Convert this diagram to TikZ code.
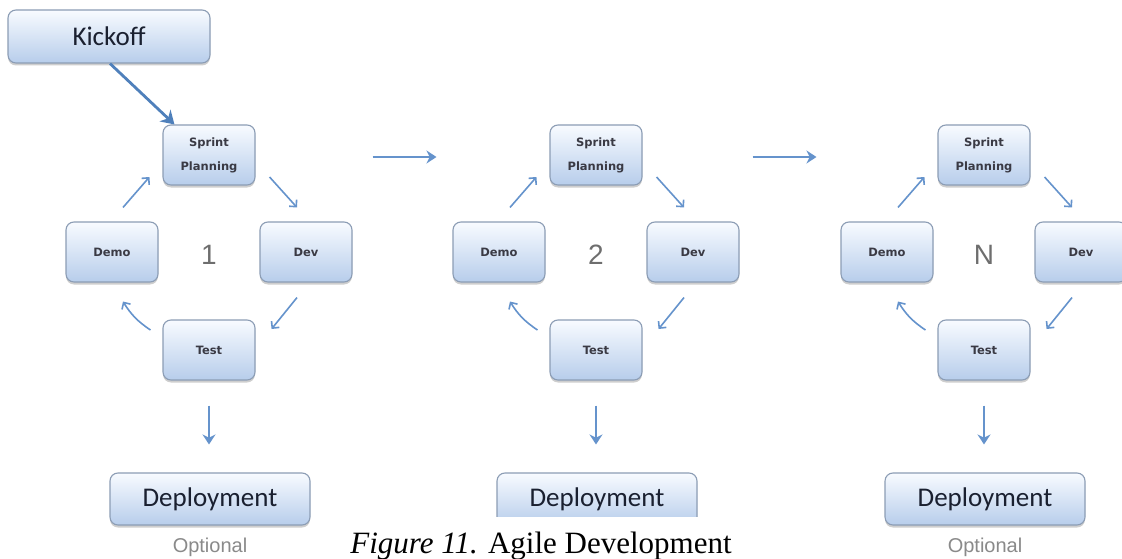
\documentclass[tikz,border=0pt]{standalone}
\usepackage{fontspec}
\setmainfont{Liberation Serif}
\newfontfamily\boxfont{DejaVu Sans}
\newfontfamily\calfont{Carlito}
\newfontfamily\arialfont{Liberation Sans}
\usetikzlibrary{arrows.meta,shadows,calc}
\definecolor{boxtop}{HTML}{F8FBFF}
\definecolor{boxbot}{HTML}{B7CDEB}
\definecolor{boxborder}{HTML}{8C9DB5}
\definecolor{labeltext}{HTML}{3A3A44}
\definecolor{darktext}{HTML}{1A2030}
\definecolor{arrowc}{HTML}{6593CC}
\definecolor{kickarrow}{HTML}{4F80BB}
\definecolor{numgray}{HTML}{6E6E6E}
\definecolor{optgray}{HTML}{8A8A8A}
\begin{document}
\begin{tikzpicture}[x=1pt,y=-1pt,
  sbox/.style={draw=boxborder, line width=1.1pt, rounded corners=8pt,
    top color=boxtop, bottom color=boxbot, minimum width=92pt, minimum height=60pt,
    inner sep=0pt, drop shadow={shadow xshift=0pt, shadow yshift=-2.5pt, opacity=0.35, fill=black!55},
    font=\boxfont\bfseries\fontsize{11.5}{24}\selectfont, text=labeltext, align=center},
  bbox/.style={sbox, minimum width=200pt, minimum height=52pt,
    font=\calfont\fontsize{27}{30}\selectfont, text=darktext},
  cyc/.style={-{Straight Barb[length=5pt,width=10pt]}, line width=1.6pt, draw=arrowc},
  big/.style={-{Stealth[length=10pt,width=13pt]}, line width=2.6pt, draw=arrowc},
  num/.style={font=\arialfont\fontsize{28}{30}\selectfont, text=numgray, inner sep=0pt},
  opt/.style={font=\arialfont\fontsize{20}{22}\selectfont, text=optgray, inner sep=0pt}]
\useasboundingbox (0,0) rectangle (1122,559);
\fill[white] (0,0) rectangle (1122,559);

\foreach \cx/\i/\lbl in {209/1/1, 596/2/2, 984/3/N} {
  \node[sbox] (sp\i) at (\cx,155) {Sprint\\Planning};
  \node[sbox] (dm\i) at (\cx-97,252) {Demo};
  \node[sbox] (dv\i) at (\cx+97,252) {Dev};
  \node[sbox] (ts\i) at (\cx,350) {Test};
  \node[num] (n\i) at (\cx,255) {\lbl};
  \node[bbox] (dp\i) at (\cx+1,499) {Deployment};
  \draw[cyc] ($(dm\i.north)+(11,-14)$) -- ($(sp\i.west)+(-13,22)$);
  \draw[cyc] ($(sp\i.east)+(14,22)$) -- ($(dv\i.north)+(-9,-14)$);
  \draw[cyc] ($(dv\i.south)+(-9,15)$) -- ($(ts\i.east)+(16,-21)$);
  \draw[cyc] ($(ts\i.west)+(-12,-20)$) to[bend left=12] ($(dm\i.south)+(11,19)$);
  \draw[big] ($(ts\i.south)+(0,25)$) -- ($(dp\i.north)+(-1,-28)$);
}

\node[opt] (op1) at (210,547) {Optional};
\node[opt] (op3) at (985,547) {Optional};

\draw[big] ($(sp1.east)+(117,2)$) -- ($(sp2.west)+(-113,2)$);
\draw[big] ($(sp2.east)+(110,2)$) -- ($(sp3.west)+(-121,2)$);

\node[bbox, minimum width=202pt, minimum height=53pt] (kick) at (109,36.5) {Kickoff};
\draw[-{Stealth[length=13pt,width=16pt]}, line width=2.8pt, draw=kickarrow]
  ($(kick.south)+(1,0)$) -- ($(sp1.north west)+(12,0)$);

\fill[white] (340,517) rectangle (752,559);
\node[anchor=base, inner sep=0pt, font=\fontsize{31}{34}\selectfont] (cap) at (541,553)
  {\textit{Figure 11.} Agile Development};
\end{tikzpicture}
\end{document}
